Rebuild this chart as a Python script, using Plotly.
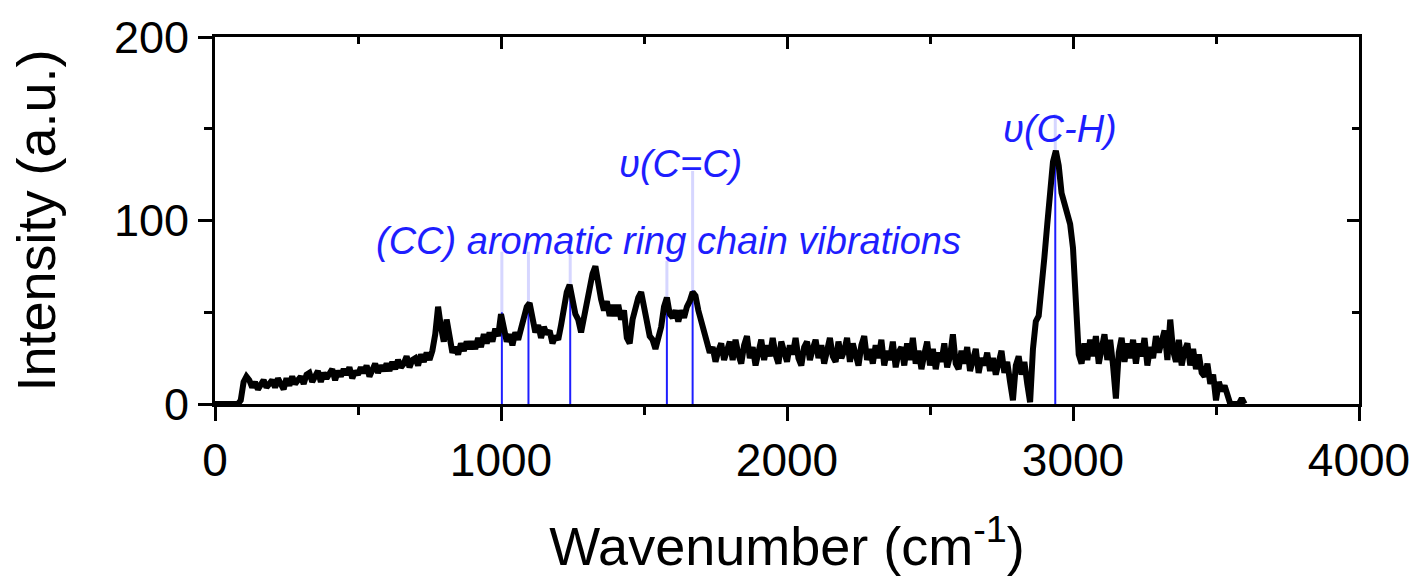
import numpy as np
import plotly.graph_objects as go

# ---------------- data ----------------
wavenumber = list(range(0, 3610, 10))
intensity = [
    # 0-90
    0, 0, 0, 0, 0, 0, 0, 0, 0, 2,
    # 100-190
    12, 15, 13, 9, 12, 8, 11, 13, 9, 11,
    # 200-290
    13, 9, 14, 11, 8, 14, 10, 15, 11, 13,
    # 300-390
    15, 11, 16, 17, 12, 15, 18, 12, 17, 14,
    # 400-490
    17, 19, 13, 18, 15, 19, 16, 20, 14, 18,
    # 500-590
    16, 20, 17, 21, 15, 19, 22, 17, 21, 18,
    # 600-690
    22, 18, 23, 19, 24, 20, 22, 26, 20, 24,
    # 700-790
    25, 21, 27, 23, 28, 24, 29, 38, 53, 42,
    # 800-890
    34, 46, 38, 28, 31, 27, 33, 29, 34, 30,
    # 900-990
    34, 30, 36, 31, 38, 33, 39, 34, 41, 37,
    # 1000-1090
    49, 39, 34, 38, 32, 39, 35, 41, 46, 53,
    # 1100-1190
    55, 45, 39, 43, 36, 42, 38, 40, 33, 37,
    # 1200-1290
    35, 43, 53, 61, 65, 57, 49, 46, 39, 47,
    # 1300-1390
    56, 61, 71, 75, 65, 57, 51, 56, 48, 54,
    # 1400-1490
    48, 54, 46, 51, 36, 33, 46, 53, 58, 61,
    # 1500-1590
    51, 45, 37, 35, 30, 37, 42, 53, 58, 49,
    # 1600-1690
    47, 51, 45, 51, 47, 53, 56, 61, 59, 51,
    # 1700-1790
    45, 37, 33, 28, 31, 23, 29, 33, 24, 30,
    # 1800-1890
    34, 24, 35, 27, 22, 32, 37, 25, 31, 21,
    # 1900-1990
    28, 35, 24, 32, 26, 36, 27, 22, 34, 27,
    # 2000-2090
    23, 32, 27, 36, 25, 21, 31, 34, 24, 30,
    # 2100-2190
    35, 25, 32, 22, 30, 36, 26, 23, 34, 25,
    # 2200-2290
    29, 36, 23, 33, 27, 21, 32, 37, 24, 30,
    # 2300-2390
    22, 32, 25, 35, 21, 29, 24, 34, 20, 28,
    # 2400-2490
    31, 21, 33, 24, 36, 22, 29, 19, 27, 34,
    # 2500-2590
    21, 30, 19, 28, 23, 33, 20, 26, 38, 22,
    # 2600-2690
    19, 29, 22, 31, 18, 26, 30, 17, 25, 21,
    # 2700-2790
    28, 18, 25, 16, 24, 29, 17, 23, 12, 2,
    # 2800-2890
    21, 26, 16, 23, 11, 1, 30, 45, 48, 62,
    # 2900-2990
    80, 98, 118, 132, 138, 130, 115, 110, 104, 98,
    # 3000-3090
    85, 55, 27, 22, 33, 24, 35, 26, 37, 22,
    # 3100-3190
    31, 38, 24, 35, 21, 3, 28, 36, 23, 33,
    # 3200-3290
    25, 35, 22, 33, 26, 36, 21, 31, 25, 37,
    # 3300-3390
    28, 34, 40, 24, 46, 29, 23, 35, 21, 29,
    # 3400-3490
    33, 21, 30, 19, 27, 17, 15, 22, 11, 16,
    # 3500-3590
    2, 12, 7, 10, 4, 0, 0, 0, 0, 3,
    # 3600
    0,
]

# marker (band) lines
band_pos = [1003, 1096, 1242, 1580, 1670, 2938]
band_solid_top = [50, 55, 64, 58, 62, 136]
band_faint_top = [83, 83, 83, 78, 127, 158]

x_ticks = [0, 1000, 2000, 3000, 4000]
y_ticks = [0, 100, 200]

labels = ["(CC) aromatic ring chain vibrations", "υ(C=C)", "υ(C-H)"]
label_x = [1587, 1629, 2954]
label_y = [89, 131, 150]

FONT = "Arial, Liberation Sans, sans-serif"
BLUE = "rgb(30,30,255)"

fig = go.Figure()

# faint upper part of the band lines
fx, fy = [], []
for p, s, t in zip(band_pos, band_solid_top, band_faint_top):
    fx += [p, p, None]
    fy += [s, t, None]
fig.add_trace(go.Scatter(x=fx, y=fy, mode="lines",
                         line=dict(color="rgba(90,90,255,0.25)", width=3),
                         hoverinfo="skip", showlegend=False))
# solid lower part
sx, sy = [], []
for p, s in zip(band_pos, band_solid_top):
    sx += [p, p, None]
    sy += [0, s, None]
fig.add_trace(go.Scatter(x=sx, y=sy, mode="lines",
                         line=dict(color=BLUE, width=2),
                         hoverinfo="skip", showlegend=False))

# spectrum
fig.add_trace(go.Scatter(x=wavenumber, y=intensity, mode="lines",
                         line=dict(color="black", width=6),
                         showlegend=False))

# dummy trace for the mirrored inside-tick axes
fig.add_trace(go.Scatter(x=[0], y=[0], xaxis="x2", yaxis="y2", mode="markers",
                         marker=dict(opacity=0), hoverinfo="skip", showlegend=False))

for txt, lx, ly in zip(labels, label_x, label_y):
    fig.add_annotation(x=lx, y=ly, text="<i>" + txt + "</i>", showarrow=False,
                       font=dict(family=FONT, size=38, color=BLUE),
                       xanchor="center", yanchor="middle")

axis_common = dict(showgrid=False, zeroline=False, linecolor="black", linewidth=3,
                   tickcolor="black", tickwidth=3)
tick_only = {k: v for k, v in axis_common.items() if k not in ("linecolor", "linewidth")}

fig.update_layout(
    width=1422, height=578,
    margin=dict(l=215, r=60, t=31, b=174),
    paper_bgcolor="white", plot_bgcolor="white",
    font=dict(family=FONT, color="black"),
    xaxis=dict(range=[0, 4000], tickvals=x_ticks, ticktext=[str(v) for v in x_ticks],
               ticks="outside", ticklen=14, showline=True, mirror=True,
               minor=dict(ticks="outside", ticklen=8, dtick=500, tickwidth=3, tickcolor="black"),
               tickfont=dict(size=46),
               title=dict(text="Wavenumber (cm<sup>-1</sup>)", font=dict(size=54), standoff=42),
               **axis_common),
    yaxis=dict(range=[0, 200], tickvals=y_ticks, ticktext=[str(v) for v in y_ticks],
               ticks="outside", ticklen=14, showline=True, mirror=True,
               minor=dict(ticks="outside", ticklen=8, dtick=50, tickwidth=3, tickcolor="black"),
               tickfont=dict(size=45),
               title=dict(text="Intensity (a.u.)", font=dict(size=54), standoff=42),
               **axis_common),
    xaxis2=dict(range=[0, 4000], overlaying="x", side="top", anchor="y2",
                tickvals=x_ticks, ticks="inside", ticklen=12, showticklabels=False,
                minor=dict(ticks="inside", ticklen=7, dtick=500, tickwidth=3, tickcolor="black"),
                showline=False, **tick_only),
    yaxis2=dict(range=[0, 200], overlaying="y", side="right", anchor="x2",
                tickvals=y_ticks, ticks="inside", ticklen=12, showticklabels=False,
                minor=dict(ticks="inside", ticklen=7, dtick=50, tickwidth=3, tickcolor="black"),
                showline=False, **tick_only),
)

fig.write_html("out.html")
